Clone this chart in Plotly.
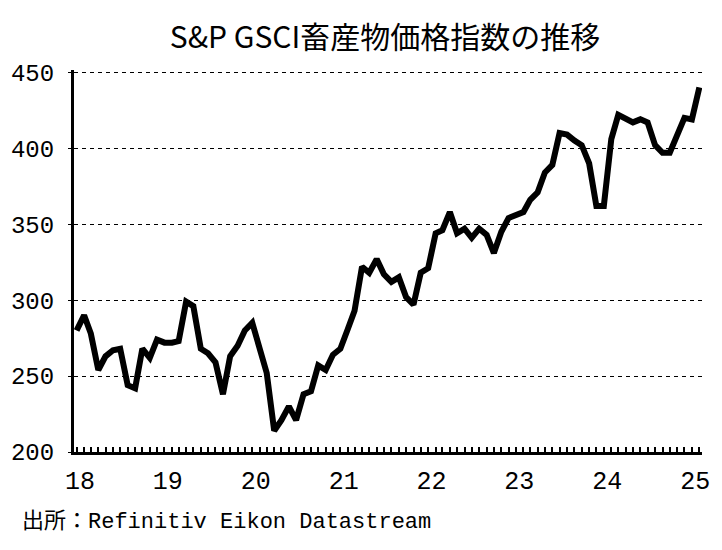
import pandas as pd
import plotly.graph_objects as go

# monthly index values, Jan 2018 - Feb 2025
months = pd.date_range("2018-01-01", periods=86, freq="MS")
index_values = [
    280, 290, 278, 254, 263, 267, 268, 244, 242, 268, 262, 274,   # 2018
    272, 272, 273, 299, 296, 268, 265, 259, 238, 263, 270, 280,   # 2019
    285, 269, 252, 214, 221, 230, 221, 238, 240, 257, 254, 264,   # 2020
    268, 281, 293, 322, 318, 327, 317, 312, 315, 302, 297, 318,   # 2021
    321, 344, 346, 358, 344, 347, 341, 347, 343, 331, 345, 354,   # 2022
    356, 358, 366, 371, 384, 389, 410, 409, 405, 402, 390, 362,   # 2023
    362, 406, 422, 419, 417, 419, 417, 402, 397, 397, 409, 420,   # 2024
    419, 440,                                                     # 2025
]
year_ticks = ["2018-01-15", "2019-01-15", "2020-01-15", "2021-01-15",
              "2022-01-15", "2023-01-15", "2024-01-15", "2025-01-15"]
year_labels = ["18", "19", "20", "21", "22", "23", "24", "25"]

# the page puts the figure 8px in from the top-left corner
W, H = 722, 550
L, T, R, B = 66, 62, 28, 106
pw, ph = W - L - R, H - T - B

fig = go.Figure()
fig.add_trace(go.Scatter(x=months, y=index_values, mode="lines",
                         line=dict(color="black", width=6), showlegend=False))

fig.update_layout(
    width=W, height=H,
    margin=dict(l=L, r=R, t=T, b=B),
    paper_bgcolor="white", plot_bgcolor="white",
    font=dict(family="Liberation Mono, Noto Sans CJK JP", color="black"),
    title=dict(text="S&P GSCI畜産物価格指数の推移", x=(385 - 8) / W, xanchor="center",
               y=1 - 29 / H, yanchor="middle",
               font=dict(family="Noto Sans CJK JP", size=30, color="black")),
)
fig.update_xaxes(
    automargin=False,
    range=["2017-12-21", "2025-02-12"],
    tickvals=year_ticks, ticktext=year_labels, ticks="",
    tickfont=dict(size=25), ticklabelstandoff=4,
    showline=True, linecolor="black", linewidth=3,
    showgrid=False, zeroline=False,
    minor=dict(ticks="inside", dtick="M1", tick0="2018-01-01",
               ticklen=5, tickwidth=1.5, tickcolor="black", showgrid=False),
)
fig.update_yaxes(
    automargin=False,
    range=[200, 451.5], tickvals=[200, 250, 300, 350, 400, 450],
    tickfont=dict(size=24), ticks="outside", ticklen=3, tickcolor="black",
    ticklabelstandoff=9,
    showline=True, linecolor="black", linewidth=3,
    showgrid=True, gridcolor="black", gridwidth=1, griddash="4px,4px",
    zeroline=False,
)
fig.add_annotation(text="出所：Refinitiv Eikon Datastream", xref="paper", yref="paper",
                   x=-(L - 12) / pw, xanchor="left", y=-(514 - 444) / ph, yanchor="middle",
                   showarrow=False, font=dict(size=22, color="black"))

fig.write_html("out.html")
